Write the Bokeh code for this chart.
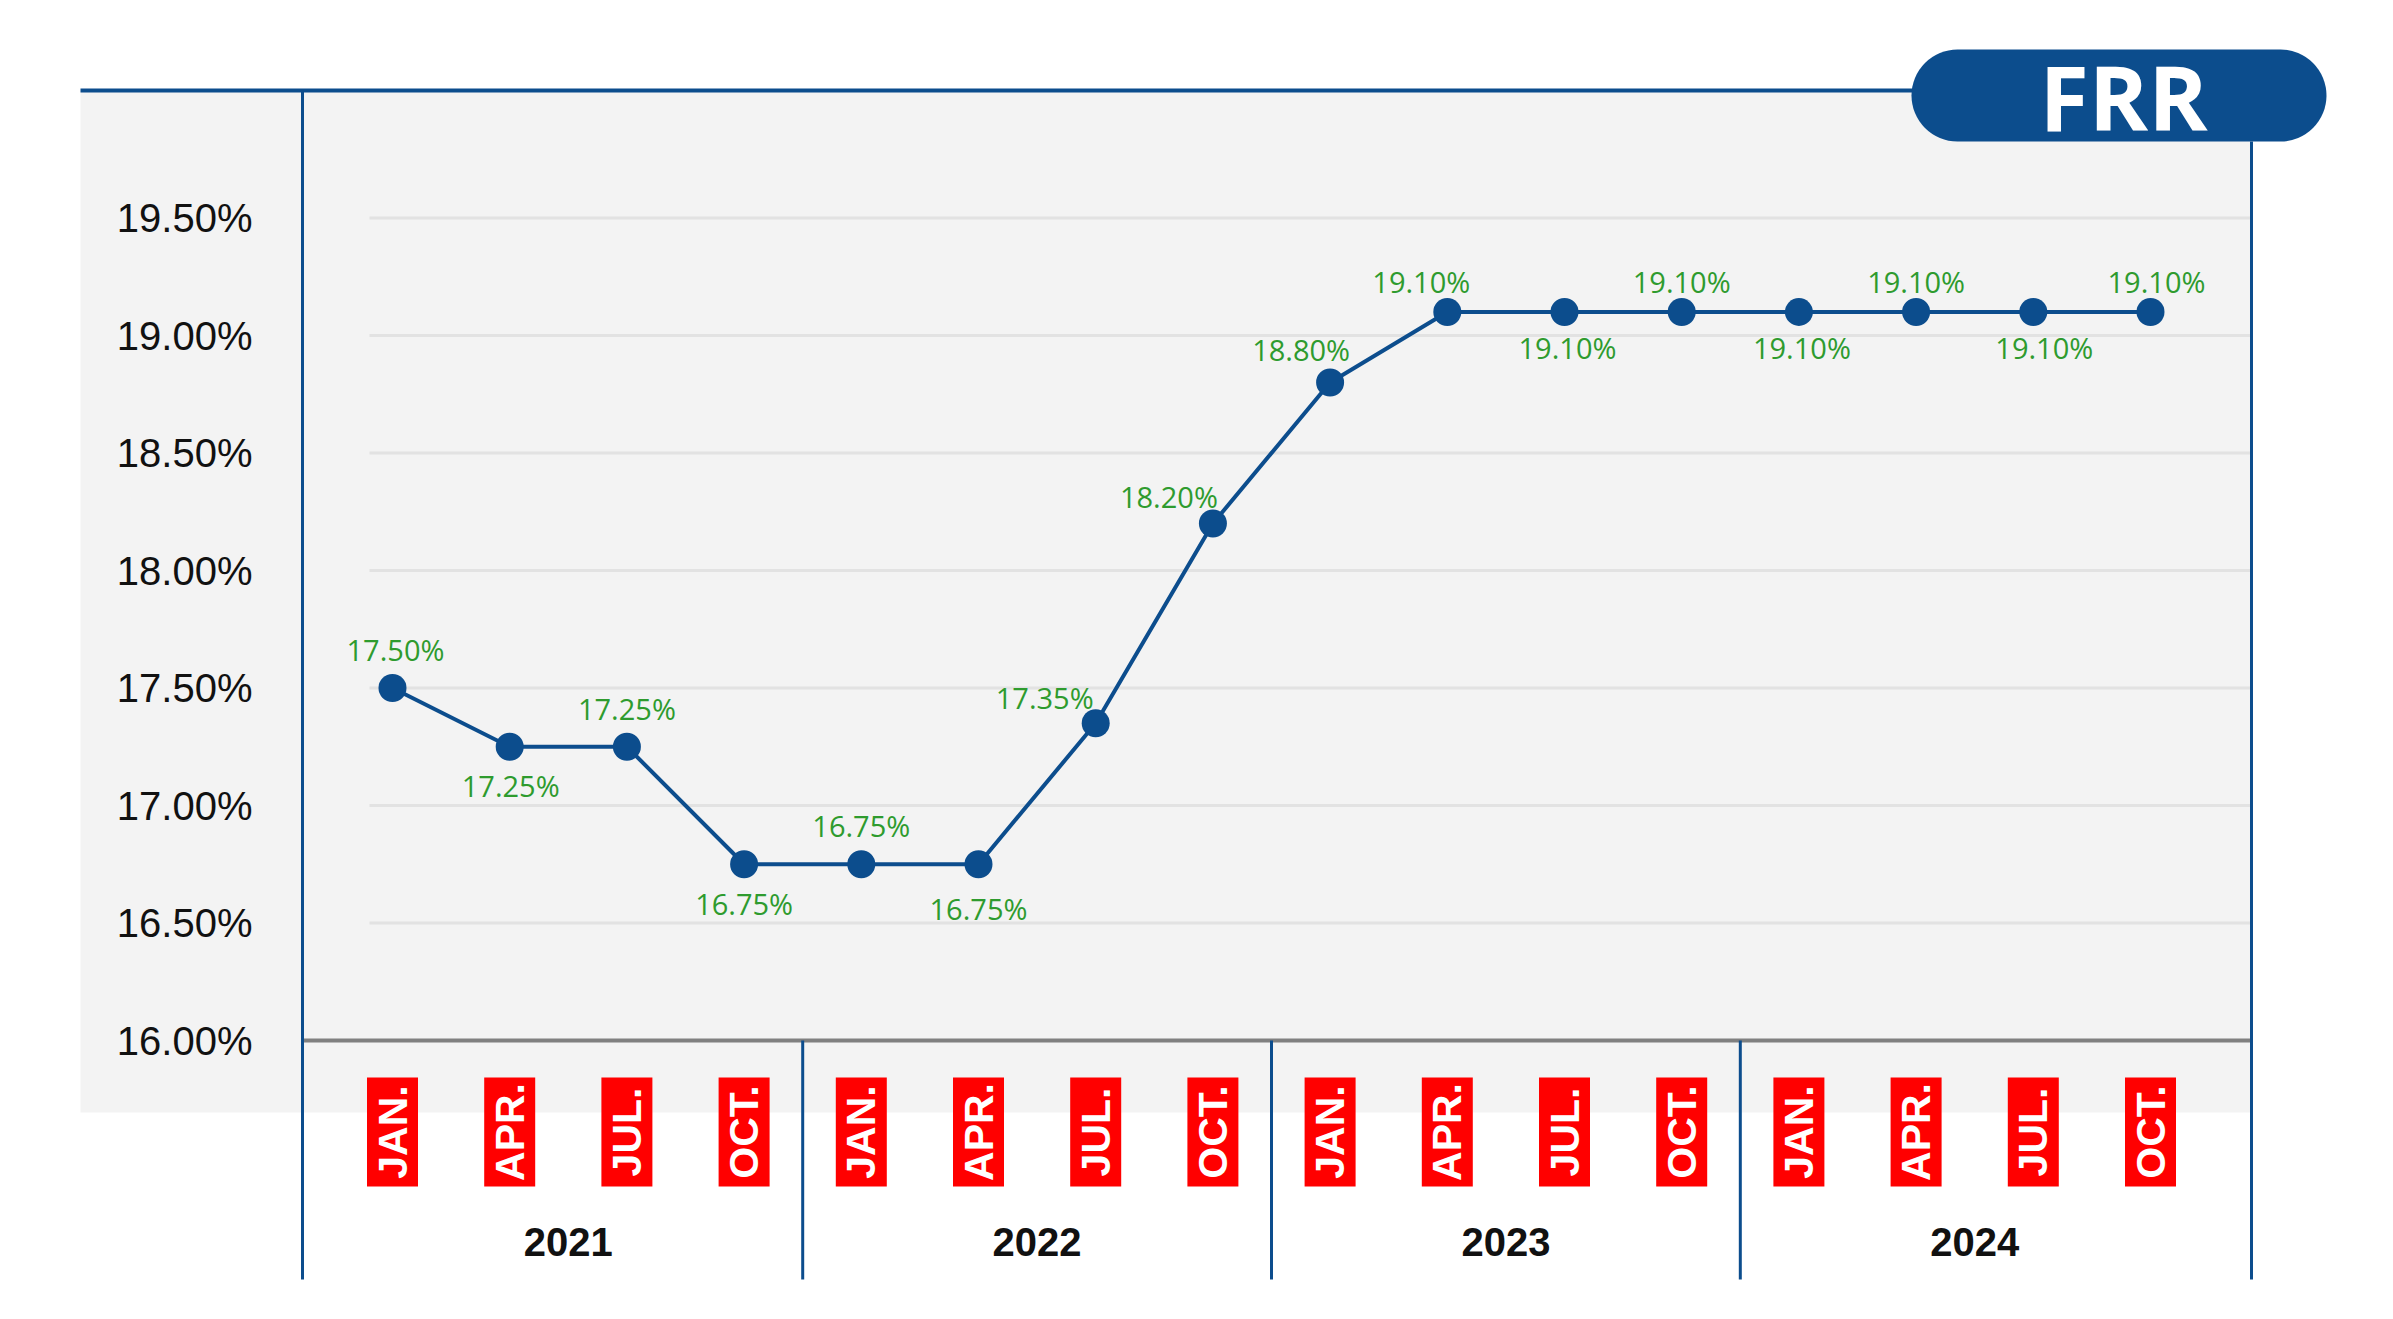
import math
from bokeh.plotting import figure
from bokeh.models import Range1d, BoxAnnotation, Label
from bokeh.core.properties import value
from bokeh.embed import file_html
from bokeh.resources import INLINE

# ---------------- data ----------------
years = ["2021", "2022", "2023", "2024"]
months = ["JAN.", "APR.", "JUL.", "OCT."]
frr = [17.50, 17.25, 17.25, 16.75,
       16.75, 16.75, 17.35, 18.20,
       18.80, 19.10, 19.10, 19.10,
       19.10, 19.10, 19.10, 19.10]
y_ticks = [16.0, 16.5, 17.0, 17.5, 18.0, 18.5, 19.0, 19.5]
title_text = "FRR"

# ---------------- layout / style ----------------
BLUE = "#0c4d8d"
GREEN = "#2e9b2e"
RED = "#ff0000"
W, H = 2377, 1303
X0_PX, DX_PX = 392.0, 117.2      # px of first period, px per period
Y16_PX, DY_PX = 1040.0, 235.0    # px of 16 %, px per 1 %

def fx(rx):  # picture x (px) -> data x
    return (rx - X0_PX) / DX_PX

def fy(ry):  # picture y (px) -> data y
    return 16 + (Y16_PX - ry) / DY_PX

n = len(frr)
xs = list(range(n))
month_labels = [months[i % len(months)] for i in xs]
value_labels = [f"{v:.2f}%" for v in frr]
tick_labels = [f"{t:.2f}%" for t in y_ticks]
# label placement (screen px offsets from each point)
lab_dx = [3, 1, 0, 0, 0, 0, -51, -44, -29, -26, 3, 0, 3, 0, 11, 6]
lab_dy = [-39, 39, -38, 39, -39, 44, -26, -27, -33, -31, 35, -31, 35, -31, 35, -31]

p = figure(width=W, height=H,
           x_range=Range1d(fx(0), fx(W)), y_range=Range1d(fy(H), fy(0)),
           x_axis_type=None, y_axis_type=None,
           toolbar_location=None, output_backend="svg",
           min_border=0, outline_line_color=None)
p.background_fill_color = "white"
p.border_fill_color = "white"

# grey panel
p.quad(left=fx(80), right=fx(2251), top=fy(90), bottom=fy(1112),
       fill_color="#f3f3f3", line_color=None)

# gridlines
grid_vals = y_ticks[1:]
p.segment(x0=[fx(369)] * len(grid_vals), x1=[fx(2251)] * len(grid_vals),
          y0=grid_vals, y1=grid_vals, line_color="#e2e2e2", line_width=3)

# baseline
p.segment(x0=[fx(302)], x1=[fx(2251)], y0=[y_ticks[0]], y1=[y_ticks[0]],
          line_color="#808080", line_width=4)

# frame lines
p.segment(x0=[fx(80)], x1=[fx(1960)], y0=[fy(90)], y1=[fy(90)],
          line_color=BLUE, line_width=4)
p.segment(x0=[fx(302), fx(2251)], x1=[fx(302), fx(2251)],
          y0=[fy(90), fy(141)], y1=[fy(1279), fy(1279)],
          line_color=BLUE, line_width=3)
seps = [k * len(months) - 0.5 for k in range(1, len(years))]
p.segment(x0=seps, x1=seps, y0=[y_ticks[0]] * len(seps), y1=[fy(1279)] * len(seps),
          line_color=BLUE, line_width=3)

# y tick labels
p.text(x=[fx(252)] * len(y_ticks), y=y_ticks, text=tick_labels,
       text_align="right", text_baseline="middle",
       text_font=value("Liberation Sans"), text_font_size="40px", text_color="#111111")

# month boxes & labels
p.rect(x=xs, y=[fy(1131.5)] * n, width=51, height=109,
       width_units="screen", height_units="screen",
       fill_color=RED, line_color=None)
p.text(x=xs, y=[fy(1131.5)] * n, text=month_labels, angle=math.pi / 2,
       text_align="center", text_baseline="middle",
       text_font=value("Liberation Sans"), text_font_style="bold",
       text_font_size="41px", text_color="white")

# year labels
year_x = [k * len(months) + (len(months) - 1) / 2 for k in range(len(years))]
p.text(x=year_x, y=[fy(1241.5)] * len(years), text=years,
       text_align="center", text_baseline="middle",
       text_font=value("Liberation Sans"), text_font_style="bold",
       text_font_size="40px", text_color="#111111")

# series
p.line(x=xs, y=frr, line_color=BLUE, line_width=4)
p.scatter(x=xs, y=frr, size=28, fill_color=BLUE, line_color=None)
p.text(x=xs, y=frr, text=value_labels, x_offset=lab_dx, y_offset=lab_dy,
       text_align="center", text_baseline="middle",
       text_font=value("Open Sans"), text_font_size="29px", text_color=GREEN)

# title pill
pill = BoxAnnotation(left=fx(1911), right=fx(2326), top=fy(49), bottom=fy(141),
                     fill_color=BLUE, fill_alpha=1.0, line_color=None,
                     border_radius=46)
p.add_layout(pill)
p.add_layout(Label(x=fx(2123), y=fy(95.5), text=title_text,
                   text_align="center", text_baseline="middle",
                   text_font="Open Sans", text_font_style="bold",
                   text_font_size="90px", text_color="white"))

open("out.html", "w").write(file_html(p, INLINE))
